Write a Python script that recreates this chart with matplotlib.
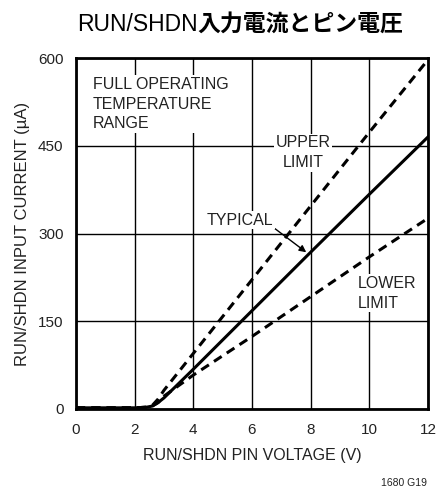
import matplotlib
matplotlib.use("Agg")
import matplotlib.pyplot as plt

plt.rcParams['font.family'] = ['Liberation Sans', 'Noto Sans CJK JP', 'DejaVu Sans']

# data
voltage = [0, 2.0, 2.4, 2.6, 2.8, 3.0, 4, 6, 8, 10, 12]
typical = [2, 2, 3, 5, 11, 19, 68, 168, 268, 367, 465]
upper = [2, 2, 3, 6, 17, 32, 95, 221, 347, 473, 597]
lower = [2, 2, 3, 5, 11, 22, 58, 124, 192, 260, 326]
xticks = [0, 2, 4, 6, 8, 10, 12]
yticks = [0, 150, 300, 450, 600]

fig = plt.figure(figsize=(4.38, 4.92), dpi=100)
ax = fig.add_axes([0.1735, 0.1687, 0.8035, 0.7133])
ax.set_xlim(0, 12)
ax.set_ylim(0, 600)
ax.set_xticks(xticks)
ax.set_yticks(yticks)
ax.grid(True, color='black', lw=1.0)
ax.set_axisbelow(True)
ax.tick_params(length=0, labelsize=11, colors='#222222')
ax.tick_params(axis='x', pad=10)
ax.tick_params(axis='y', pad=9)
for s in ax.spines.values():
    s.set_linewidth(2)

ax.plot(voltage, typical, color='black', lw=2.2, zorder=3)
ax.plot(voltage, upper, color='black', lw=2.2, ls=(0, (3, 2)), zorder=3)
ax.plot(voltage, lower, color='black', lw=2.2, ls=(0, (3, 2)), zorder=3)

ax.set_xlabel('RUN/SHDN PIN VOLTAGE (V)', fontsize=11.5, color='#222222', labelpad=8)
ax.set_ylabel('RUN/SHDN INPUT CURRENT (µA)', fontsize=12, color='#222222', labelpad=6)

bb = dict(facecolor='white', edgecolor='none', pad=1)
ax.text(0.58, 568, 'FULL OPERATING\nTEMPERATURE\nRANGE', fontsize=11.5, va='top', ha='left',
        linespacing=1.4, color='#222222', bbox=bb, zorder=2)
ax.text(7.75, 438, 'UPPER\nLIMIT', fontsize=11.5, va='center', ha='center',
        linespacing=1.4, color='#222222', bbox=bb, zorder=2)
ax.text(9.6, 198, 'LOWER\nLIMIT', fontsize=11.5, va='center', ha='left',
        linespacing=1.4, color='#222222', bbox=bb, zorder=2)
ax.annotate('TYPICAL', xy=(7.85, 268), xytext=(5.6, 323), fontsize=11.5, ha='center', va='center',
            color='#222222', bbox=bb, zorder=4,
            arrowprops=dict(arrowstyle='-|>', color='black', lw=1, shrinkA=0, shrinkB=0,
                            mutation_scale=10, relpos=(1.0, 0.0)))

fig.text(0.975, 0.009, '1680 G19', fontsize=7.5, ha='right', va='bottom', color='#222222')

# title: latin regular + Japanese bold
ty = 0.951
t1 = fig.text(0.175, ty, 'RUN/SHDN', fontsize=16.5, ha='left', va='center',
              family=['Liberation Sans', 'Noto Sans CJK JP'])
fig.canvas.draw()
r = fig.canvas.get_renderer()
ext = t1.get_window_extent(renderer=r)
fig.text(ext.x1 / fig.bbox.width, ty, '入力電流とピン電圧', fontsize=16.5, ha='left', va='center',
         family=['Noto Sans CJK JP'], weight='bold')

fig.savefig('out.png', dpi=100)
